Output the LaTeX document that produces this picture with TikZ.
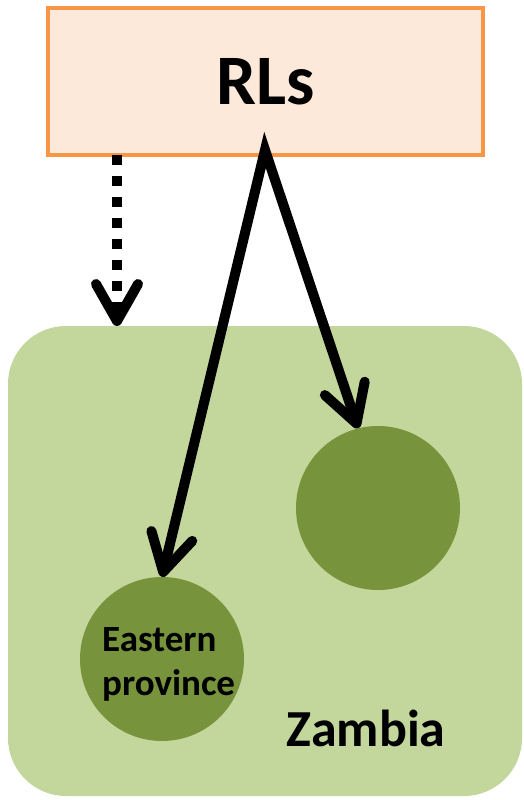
\documentclass[tikz,border=0pt]{standalone}
\usepackage{fontspec}
\setmainfont{Carlito}
\usetikzlibrary{arrows.meta}

\definecolor{boxfill}{HTML}{FDE9D9}
\definecolor{boxline}{HTML}{F79646}
\definecolor{landfill}{HTML}{C3D69B}
\definecolor{regionfill}{HTML}{77933C}

\tikzset{
  rlsbox/.style={draw=boxline, fill=boxfill, line width=4pt,
    minimum width=435pt, minimum height=147pt, inner sep=0pt,
    font=\fontsize{71}{85}\selectfont\bfseries},
  land/.style={fill=landfill, rounded corners=58pt},
  region/.style={circle, fill=regionfill, minimum size=164pt, inner sep=0pt},
  flow/.style={line width=10pt, line join=miter,
    -{Straight Barb[length=37pt, width=42pt, round]}},
  twoflow/.style={line width=10pt, line join=miter,
    {Straight Barb[length=37pt, width=42pt, round]}-{Straight Barb[length=37pt, width=42pt, round]}},
  weakflow/.style={flow, dash pattern=on 10pt off 11pt, line cap=butt},
}

\begin{document}
\begin{tikzpicture}[x=1pt, y=-1pt]
  \useasboundingbox (0,0) rectangle (524,800);

  % country area
  \fill[land] (8,326) rectangle (522,796);
  \coordinate (zam) at (8,326);

  % provinces
  \node[region] (ep) at (162,659) {};
  \node[region] (rc) at (378,508) {};

  % labels
  \node[anchor=base west, align=left, inner sep=0pt,
        font=\fontsize{37}{44}\selectfont\bfseries] (eplabel) at (102,695)
        {Eastern\\province};
  \node[anchor=base, inner sep=0pt, font=\fontsize{52}{62}\selectfont\bfseries]
        (zlabel) at (366,746) {Zambia};

  % source box
  \node[rlsbox] (rls) at (265.5,81.5) {\raisebox{-2pt}{RLs}};

  % connectors
  \coordinate (apex) at (265,150);
  \coordinate (d0) at (117,155);
  \draw[twoflow] (ep.north) -- (apex) -- (rc.104);
  \draw[weakflow] (d0) -- (d0 |- zam);
\end{tikzpicture}
\end{document}
